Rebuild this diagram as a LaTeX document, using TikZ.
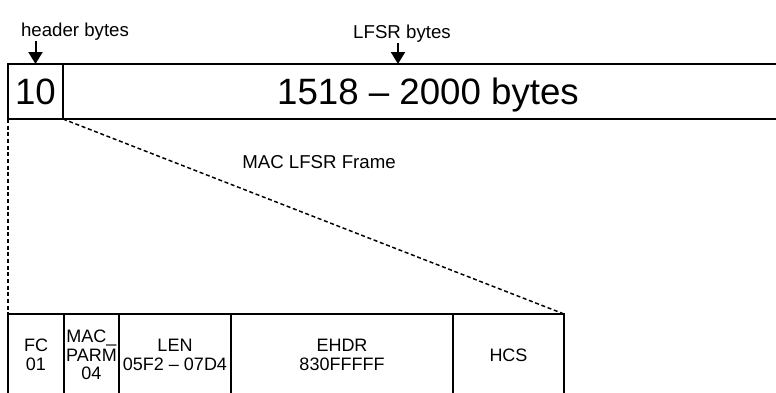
\documentclass[tikz,border=0pt]{standalone}
\usepackage{fontspec}
\setmainfont{Liberation Sans}
\usetikzlibrary{arrows.meta}

\begin{document}
\begin{tikzpicture}[x=0.75pt, y=-0.75pt,
    every node/.style={inner sep=0pt, outer sep=0pt},
    bigbox/.style={draw, line width=1.1pt, anchor=north west,
        minimum height=41.25pt, text height=19.7pt, text depth=0pt,
        font=\fontsize{27.5}{30}\selectfont},
    field/.style={draw, line width=1.1pt, anchor=north west,
        minimum height=61.5pt, align=center,
        font=\fontsize{13.5}{14}\selectfont},
    toplabel/.style={anchor=base, font=\fontsize{14}{16}\selectfont},
    pointer/.style={-{Triangle[width=10.5pt, length=9pt]}, line width=1.5pt},
    zoomline/.style={line width=1.1pt, dash pattern=on 3pt off 2pt}]
    \useasboundingbox (0,0) rectangle (776,393);
    \clip (0,0) rectangle (776,393);

    % frame on the wire
    \node[bigbox, minimum width=41.25pt] (hdr) at (8,64) {10};
    \node[bigbox, minimum width=547.5pt] (lfsr) at (hdr.north east) {1518 -- 2000 bytes};

    % what the bytes are
    \node[toplabel] (hdrlbl) at (75,36) {header bytes};
    \node[toplabel] (lfsrlbl) at (402,38) {LFSR bytes};
    \coordinate (lfsrtip) at (398,64);
    \draw[pointer] (hdr.north |- 0,41) -- (hdr.north);
    \draw[pointer] (lfsrtip |- 0,43) -- (lfsrtip);

    % header fields
    \node[field, minimum width=42pt] (fc) at (8,314) {FC\\01};
    \node[field, minimum width=41.25pt] (parm) at (fc.north east) {MAC\_\\PARM\\04};
    \node[field, minimum width=84pt] (len) at (parm.north east) {LEN\\05F2 -- 07D4};
    \node[field, minimum width=166.5pt] (ehdr) at (len.north east) {EHDR\\830FFFFF};
    \node[field, minimum width=83.25pt] (hcs) at (ehdr.north east) {HCS};

    % zoom onto the header
    \draw[zoomline] (hdr.south west) -- (fc.north west);
    \draw[zoomline] (hdr.south east) -- (hcs.north east);
    \node[toplabel] (framelbl) at (319,168) {MAC LFSR Frame};
\end{tikzpicture}
\end{document}
